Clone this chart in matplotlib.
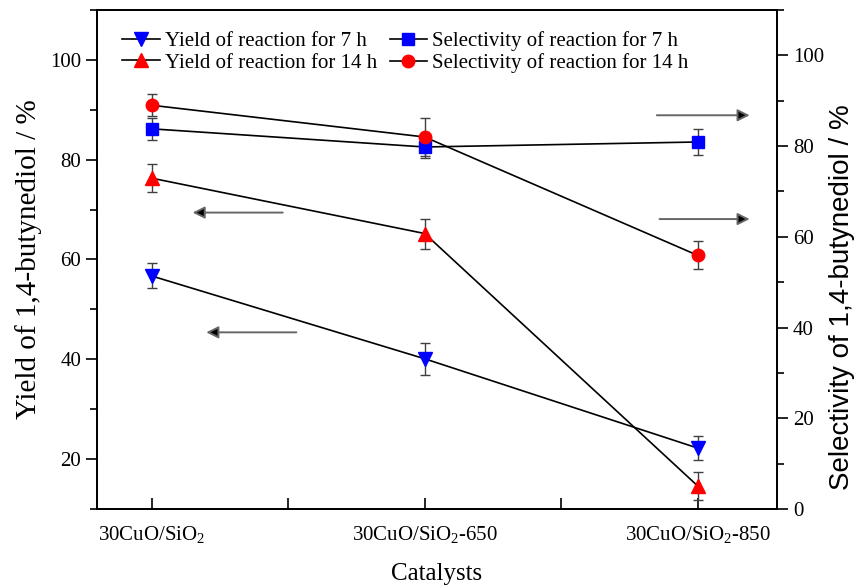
import numpy as np
import matplotlib
matplotlib.use('Agg')
import matplotlib.pyplot as plt
from matplotlib.lines import Line2D
from matplotlib.ticker import MultipleLocator

plt.rcParams['font.family'] = ['Liberation Serif', 'DejaVu Serif']
plt.rcParams['mathtext.fontset'] = 'custom'
plt.rcParams['mathtext.rm'] = 'Liberation Serif'
plt.rcParams['mathtext.default'] = 'regular'

# data
catalysts = ['30CuO/SiO$_2$', '30CuO/SiO$_2$-650', '30CuO/SiO$_2$-850']
yield_7h = [56.7, 40.1, 22.2]
yield_7h_err = [2.5, 3.2, 2.4]
yield_14h = [76.3, 65.2, 14.6]
yield_14h_err = [2.8, 3.0, 2.8]
sel_7h = [83.8, 79.8, 80.9]
sel_7h_err = [2.4, 2.5, 2.9]
sel_14h = [89.0, 82.0, 55.9]
sel_14h_err = [2.4, 4.1, 3.1]

# arrows pointing to the axis each series belongs to (x_tail, x_tip, y on left axis)
arrows = [(1.48, 1.15, 69.4), (1.53, 1.20, 45.4), (2.85, 3.19, 88.9), (2.86, 3.19, 68.1)]

x = np.arange(1, len(catalysts) + 1)

fig = plt.figure(figsize=(8.61, 5.87), dpi=100)
ax = fig.add_axes([0.1127, 0.1329, 0.7897, 0.8501])
ax2 = ax.twinx()

err_kw = dict(ls='none', ecolor='0.25', elinewidth=1.0, capsize=3.5, capthick=1.0)

ax.errorbar(x, yield_7h, yerr=yield_7h_err, marker='v', ms=10, mfc='blue', mec='blue', **err_kw)
ax.plot(x, yield_7h, color='k', lw=1.2)
ax.errorbar(x, yield_14h, yerr=yield_14h_err, marker='^', ms=10, mfc='red', mec='red', **err_kw)
ax.plot(x, yield_14h, color='k', lw=1.2)

ax2.errorbar(x, sel_7h, yerr=sel_7h_err, marker='s', ms=8, mfc='blue', mec='blue', **err_kw)
ax2.plot(x, sel_7h, color='k', lw=1.2)
ax2.errorbar(x, sel_14h, yerr=sel_14h_err, marker='o', ms=9, mfc='red', mec='red', **err_kw)
ax2.plot(x, sel_14h, color='k', lw=1.2)

for x0, x1, yy in arrows:
    ax.annotate('', xy=(x1, yy), xytext=(x0, yy),
                arrowprops=dict(arrowstyle='-|>', ec='0.4', fc='k', lw=1.4,
                                mutation_scale=18, shrinkA=0, shrinkB=0))

ax.set_xlim(0.8, 3.29)
ax.set_ylim(10, 110)
ax2.set_ylim(0, 110)

ax.set_xticks(x)
ax.set_xticklabels(catalysts, fontsize=15)
ax.xaxis.set_minor_locator(MultipleLocator(0.5))
ax.tick_params(axis='x', which='both', direction='in', top=False, length=8, width=1.2, pad=11)

ax.set_yticks([20, 40, 60, 80, 100])
ax.yaxis.set_minor_locator(MultipleLocator(10))
ax.tick_params(axis='y', which='major', direction='out', length=8, width=1.2, labelsize=15)
ax.tick_params(axis='y', which='minor', direction='out', length=5, width=1.2)

ax2.set_yticks([0, 20, 40, 60, 80, 100])
ax2.yaxis.set_minor_locator(MultipleLocator(10))
ax2.tick_params(axis='y', which='major', direction='out', length=8, width=1.2, labelsize=15)
ax2.tick_params(axis='y', which='minor', direction='out', length=5, width=1.2)

for sp in ax.spines.values():
    sp.set_linewidth(1.3)
for sp in ax2.spines.values():
    sp.set_linewidth(1.3)

ax.set_xlabel('Catalysts', fontsize=18, labelpad=13)
ax.set_ylabel('Yield of 1,4-butynediol / %', fontsize=21, labelpad=6)
ax2.set_ylabel('Selectivity of 1,4-butynediol / %', fontsize=20,
               family=['Liberation Sans', 'DejaVu Sans'])
ax2.yaxis.set_label_coords(1.076, 0.425)

handles = [
    Line2D([], [], color='k', lw=1.2, marker='v', ms=10, mfc='blue', mec='blue'),
    Line2D([], [], color='k', lw=1.2, marker='^', ms=10, mfc='red', mec='red'),
    Line2D([], [], color='k', lw=1.2, marker='s', ms=8, mfc='blue', mec='blue'),
    Line2D([], [], color='k', lw=1.2, marker='o', ms=9, mfc='red', mec='red'),
]
labels = ['Yield of reaction for 7 h', 'Yield of reaction for 14 h',
          'Selectivity of reaction for 7 h', 'Selectivity of reaction for 14 h']
ax2.legend(handles, labels, ncol=2, loc='upper left', bbox_to_anchor=(0.037, 0.958),
           frameon=False, fontsize=15, handlelength=1.8, handletextpad=0.25,
           columnspacing=0.6, labelspacing=0.1, borderaxespad=0, borderpad=0)

fig.savefig('out.png', dpi=100)
